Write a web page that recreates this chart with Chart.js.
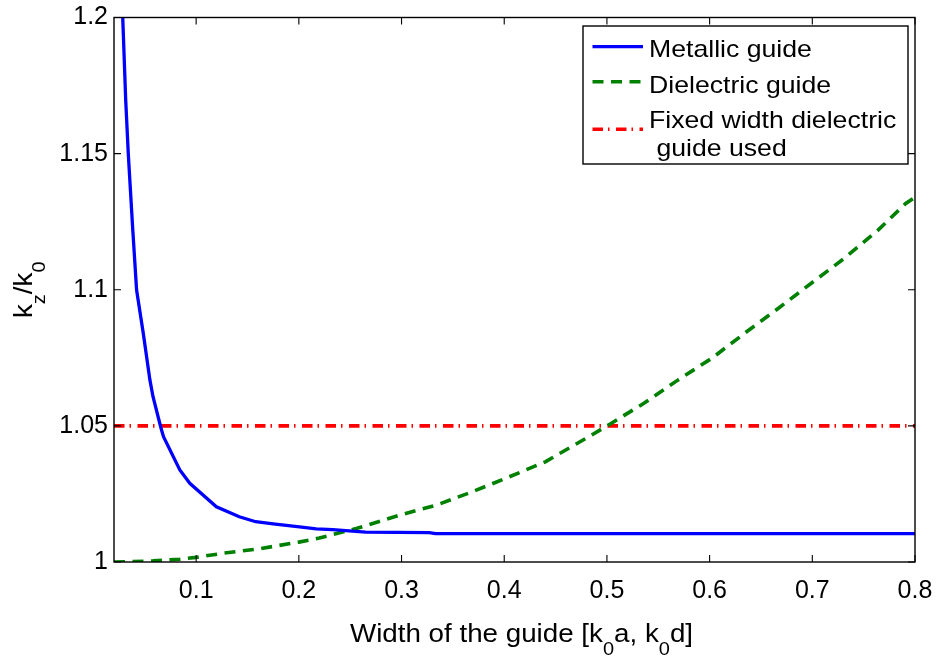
<!DOCTYPE html>
<html>
<head>
<meta charset="utf-8">
<script src="https://cdn.jsdelivr.net/npm/chart.js@4/dist/chart.umd.min.js"></script>
<style>
html,body{margin:0;padding:0;background:#fff;}
#wrap{width:937px;height:657px;position:relative;}
</style>
</head>
<body>
<div id="wrap"><canvas id="c" width="937" height="657"></canvas></div>
<script>
// ---- data ----
const metalX = [0.0285, 0.0314, 0.0339, 0.0381, 0.042, 0.0485, 0.055, 0.058, 0.0656, 0.0682, 0.0841, 0.0938, 0.1197, 0.142, 0.158, 0.175, 0.2006, 0.217, 0.233, 0.265, 0.327, 0.333, 0.8];
const metalY = [1.2, 1.1697, 1.150, 1.1231, 1.0999, 1.084, 1.0668, 1.0607, 1.0494, 1.046, 1.0338, 1.0289, 1.0203, 1.0166, 1.0148, 1.014, 1.0129, 1.0122, 1.0119, 1.011, 1.0108, 1.0104, 1.0104];
const dielX = [0.02, 0.058, 0.084, 0.1, 0.126, 0.162, 0.2, 0.22, 0.256, 0.298, 0.334, 0.369, 0.405, 0.44, 0.485, 0.504, 0.536, 0.569, 0.602, 0.634, 0.667, 0.699, 0.731, 0.764, 0.791, 0.8];
const dielY = [1.0, 1.0004, 1.001, 1.0017, 1.0032, 1.0049, 1.0073, 1.0088, 1.0123, 1.0172, 1.0209, 1.0258, 1.0313, 1.0368, 1.0466, 1.0509, 1.0583, 1.0668, 1.0748, 1.084, 1.0932, 1.1024, 1.1115, 1.1219, 1.1317, 1.134];
const fixedX = [0.02, 0.8];
const fixedY = [1.05, 1.05];

const xTicks = [0.1, 0.2, 0.3, 0.4, 0.5, 0.6, 0.7, 0.8];
const xTickLabels = ['0.1', '0.2', '0.3', '0.4', '0.5', '0.6', '0.7', '0.8'];
const yTicks = [1, 1.05, 1.1, 1.15, 1.2];
const yTickLabels = ['1', '1.05', '1.1', '1.15', '1.2'];

const seriesNames = ['Metallic guide', 'Dielectric guide', 'Fixed width dielectric\n guide used'];
const xTitleParts = [['Width of the guide [k', 0], ['0', 1], ['a, k', 0], ['0', 1], ['d]', 0]];
const yTitleParts = [['k', 0], ['z', 1], ['/k', 0], ['0', 1]];

// ---- styling ----
const FONT = "'Liberation Sans', Arial, Helvetica, sans-serif";
const SX = 1.11; // horizontal text stretch of custom-drawn text

function toPts(xs, ys) { return xs.map((x, i) => ({ x: x, y: ys[i] })); }

function drawRich(ctx, parts, size, subSize, subDrop) {
  let x = 0;
  parts.forEach(([s, sub]) => {
    ctx.font = (sub ? subSize : size) + 'px ' + FONT;
    ctx.fillText(s, x, sub ? subDrop : 0);
    x += ctx.measureText(s).width;
  });
}
function richWidth(ctx, parts, size, subSize) {
  let w = 0;
  parts.forEach(([s, sub]) => {
    ctx.font = (sub ? subSize : size) + 'px ' + FONT;
    w += ctx.measureText(s).width;
  });
  return w;
}

const framePlugin = {
  id: 'frame',
  afterDatasetsDraw(chart) {
    const ctx = chart.ctx;
    const a = chart.chartArea;
    const xs = chart.scales.x, ys = chart.scales.y;
    const L = 7;
    ctx.save();
    ctx.strokeStyle = '#000';
    ctx.lineWidth = 1.4;
    ctx.strokeRect(a.left, a.top, a.right - a.left, a.bottom - a.top);
    ctx.lineWidth = 1.1;
    ctx.beginPath();
    xTicks.forEach(v => {
      const p = xs.getPixelForValue(v);
      ctx.moveTo(p, a.bottom); ctx.lineTo(p, a.bottom - L);
      ctx.moveTo(p, a.top); ctx.lineTo(p, a.top + L);
    });
    yTicks.forEach(v => {
      const p = ys.getPixelForValue(v);
      ctx.moveTo(a.left, p); ctx.lineTo(a.left + L, p);
      ctx.moveTo(a.right, p); ctx.lineTo(a.right - L, p);
    });
    ctx.stroke();
    ctx.restore();
  },
  afterDraw(chart) {
    const ctx = chart.ctx;
    const a = chart.chartArea;
    ctx.save();
    ctx.fillStyle = '#000';
    ctx.textBaseline = 'alphabetic';
    ctx.textAlign = 'left';
    // x title
    const wX = richWidth(ctx, xTitleParts, 25, 18) * SX;
    ctx.save();
    ctx.translate((a.left + a.right) / 2 + 7 - wX / 2, 641.5);
    ctx.scale(SX, 1);
    drawRich(ctx, xTitleParts, 25, 18, 13.5);
    ctx.restore();
    // y title
    const wY = richWidth(ctx, yTitleParts, 25, 18) * SX;
    ctx.save();
    ctx.translate(32, (a.top + a.bottom) / 2 + wY / 2);
    ctx.rotate(-Math.PI / 2);
    ctx.scale(SX, 1);
    drawRich(ctx, yTitleParts, 25, 18, 13);
    ctx.restore();

    // legend
    const bx = 583, by = 26, bw = 325, bh = 138;
    ctx.fillStyle = '#fff';
    ctx.fillRect(bx, by, bw, bh);
    ctx.strokeStyle = '#000';
    ctx.lineWidth = 1.4;
    ctx.strokeRect(bx, by, bw, bh);
    const ds = chart.data.datasets;
    const lineY = [46.7, 81.7, 129.3];
    const textBase = [[56.5], [92.5], [127.8, 156.3]];
    ds.forEach((d, i) => {
      ctx.save();
      ctx.strokeStyle = d.borderColor;
      ctx.lineWidth = d.borderWidth;
      ctx.setLineDash(d.borderDash || []);
      ctx.beginPath();
      ctx.moveTo(592.5, lineY[i]);
      ctx.lineTo(643, lineY[i]);
      ctx.stroke();
      ctx.restore();
      const lines = seriesNames[i].split('\n');
      lines.forEach((ln, k) => {
        ctx.save();
        ctx.fillStyle = '#000';
        ctx.translate(649, textBase[i][k]);
        ctx.scale(SX, 1);
        ctx.font = '24px ' + FONT;
        ctx.fillText(ln, 0, 0);
        ctx.restore();
      });
    });
    ctx.restore();
  }
};

const bgPlugin = {
  id: 'bg',
  beforeDraw(chart) {
    const ctx = chart.ctx;
    ctx.save();
    ctx.fillStyle = '#fff';
    ctx.fillRect(0, 0, chart.width, chart.height);
    ctx.restore();
  }
};

new Chart(document.getElementById('c'), {
  type: 'scatter',
  data: {
    datasets: [
      { label: seriesNames[0], data: toPts(metalX, metalY), showLine: true, borderColor: '#0000ff', backgroundColor: '#0000ff', borderWidth: 3.3, pointRadius: 0, tension: 0, fill: false },
      { label: seriesNames[1], data: toPts(dielX, dielY), showLine: true, borderColor: '#008000', backgroundColor: '#008000', borderWidth: 3.6, borderDash: [11, 7.5], pointRadius: 0, tension: 0, fill: false },
      { label: seriesNames[2], data: toPts(fixedX, fixedY), showLine: true, borderColor: '#ff0000', backgroundColor: '#ff0000', borderWidth: 3.6, borderDash: [10.5, 5, 1.5, 6.5], pointRadius: 0, tension: 0, fill: false }
    ]
  },
  options: {
    responsive: false,
    animation: false,
    devicePixelRatio: 1,
    layout: { padding: { top: 17.5, right: 22, left: 0, bottom: 0 } },
    plugins: { legend: { display: false }, tooltip: { enabled: false } },
    scales: {
      x: {
        type: 'linear', min: 0.02, max: 0.8,
        grid: { display: false, drawTicks: false },
        border: { display: false },
        afterBuildTicks: s => { s.ticks = xTicks.map(v => ({ value: v })); },
        afterFit: s => { s.height = 95; s.paddingLeft = 0; s.paddingRight = 0; },
        ticks: { font: { family: FONT, size: 25 }, color: '#000', padding: 14, maxRotation: 0, autoSkip: false,
                 callback: (v, i) => xTickLabels[i] }
      },
      y: {
        type: 'linear', min: 1, max: 1.2,
        grid: { display: false, drawTicks: false },
        border: { display: false },
        afterBuildTicks: s => { s.ticks = yTicks.map(v => ({ value: v })); },
        afterFit: s => { s.width = 114; s.paddingTop = 0; s.paddingBottom = 0; },
        ticks: { font: { family: FONT, size: 25 }, color: '#000', padding: 6, autoSkip: false,
                 callback: (v, i) => yTickLabels[i] }
      }
    }
  },
  plugins: [bgPlugin, framePlugin]
});
</script>
</body>
</html>
